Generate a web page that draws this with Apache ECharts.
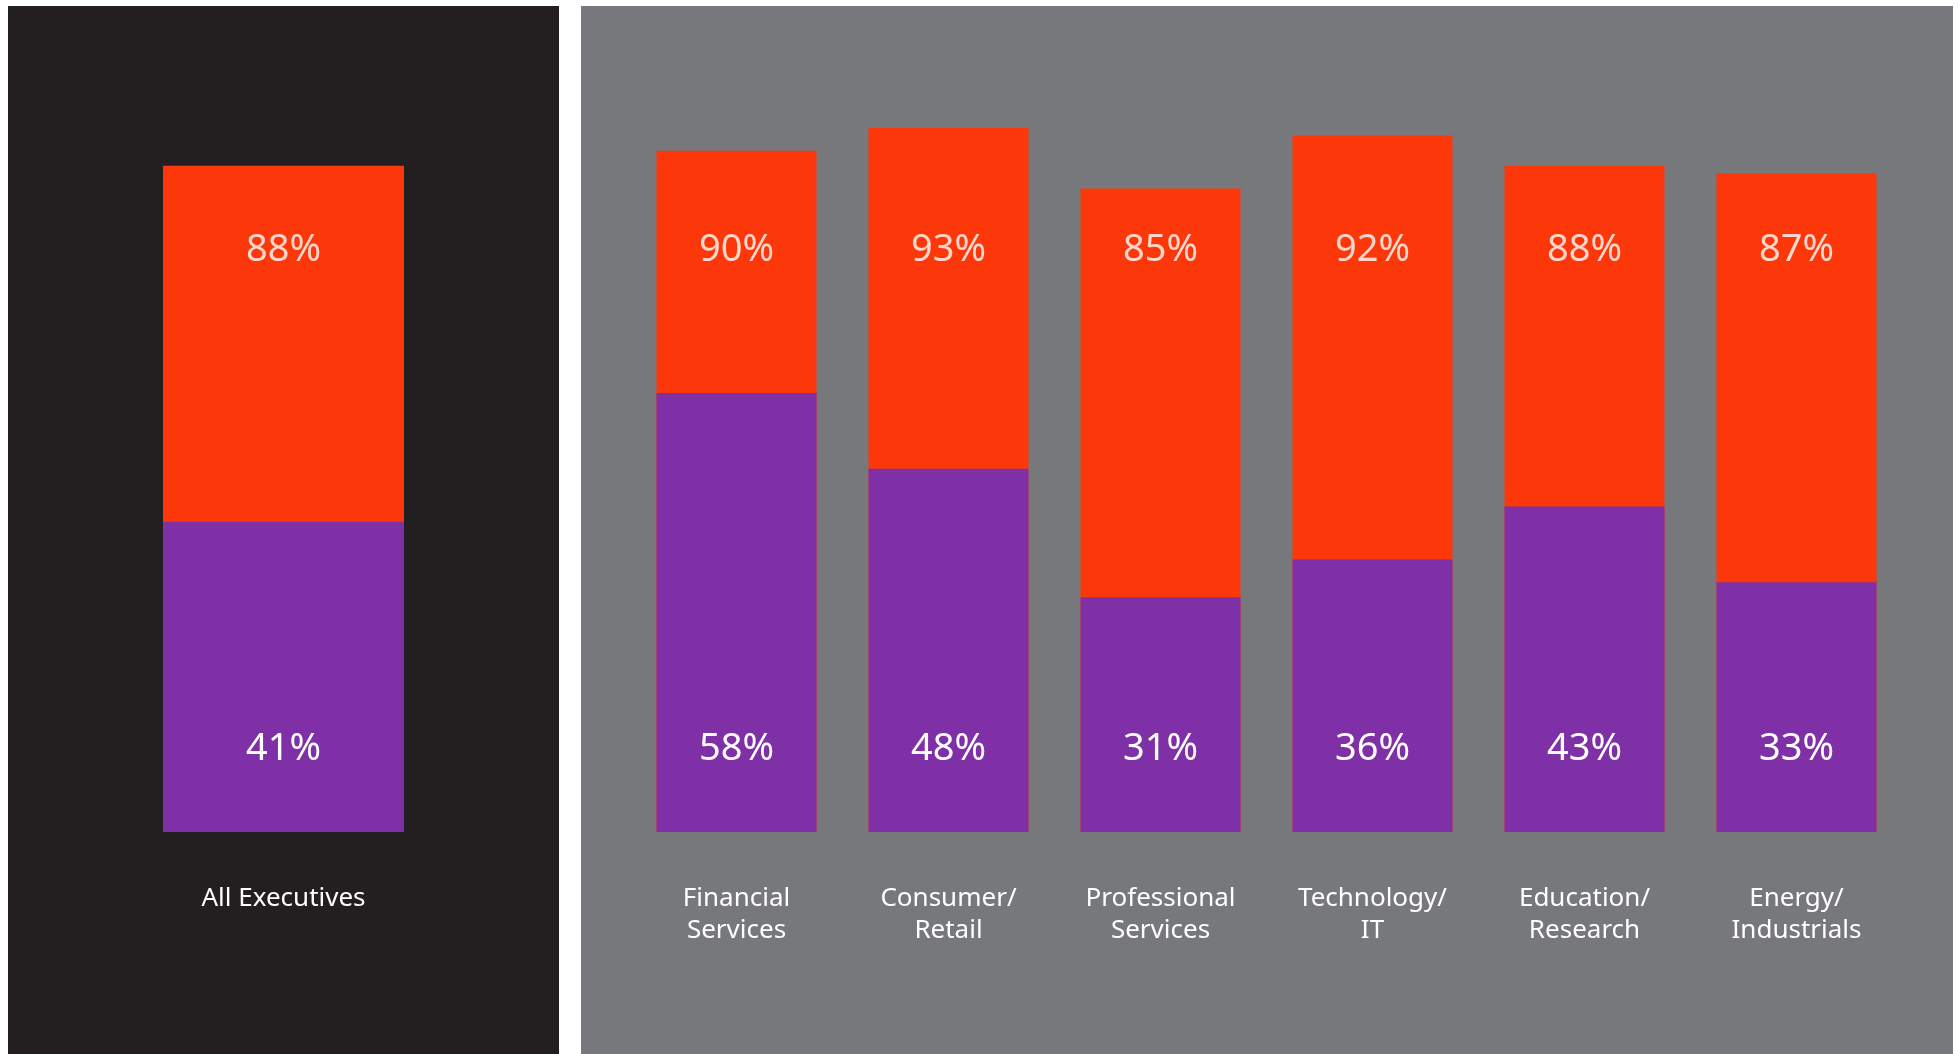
<!DOCTYPE html>
<html>
<head>
<meta charset="utf-8">
<title>Executives by industry</title>
<script src="https://cdn.jsdelivr.net/npm/echarts@6/dist/echarts.min.js"></script>
<style>
  html, body { margin: 0; padding: 0; background: #ffffff; }
  #chart { width: 1960px; height: 1054px; }
</style>
</head>
<body>
<div id="chart"></div>
<script>
// Overall figures
const overallCategories = ['All Executives'];
const overallTop = [88];
const overallBottom = [41];

// Figures by industry
const industryCategories = [
  'Financial\nServices',
  'Consumer/\nRetail',
  'Professional\nServices',
  'Technology/\nIT',
  'Education/\nResearch',
  'Energy/\nIndustrials'
];
const industryTop = [90, 93, 85, 92, 88, 87];
const industryBottom = [58, 48, 31, 36, 43, 33];

const ORANGE = '#FC3709';
const PURPLE = '#7F30A6';
const DARK = '#231F20';
const GREY = '#77787C';
const FONT = 'Noto Sans';

// level (in axis units) where the upper value labels sit
const TOP_LABEL_LEVEL = 76.9;

const valueLabel = {
  show: true,
  color: '#ffffff',
  fontFamily: FONT,
  fontSize: 38,
  formatter: p => p.value[2] + '%'
};

function xAxisFor(gridIndex, cats) {
  return {
    type: 'category',
    gridIndex: gridIndex,
    data: cats,
    axisLine: { show: false },
    axisTick: { show: false },
    splitLine: { show: false },
    axisLabel: {
      interval: 0,
      color: '#ffffff',
      fontFamily: FONT,
      fontSize: 26,
      lineHeight: 32,
      margin: 51
    }
  };
}

function yAxisFor(gridIndex) {
  return {
    type: 'value',
    gridIndex: gridIndex,
    min: 0,
    max: 100,
    show: false,
    splitLine: { show: false }
  };
}

function seriesFor(idx, cats, topVals, bottomVals, barWidth) {
  return [
    {
      type: 'bar',
      xAxisIndex: idx,
      yAxisIndex: idx,
      data: topVals,
      barWidth: barWidth,
      barGap: '-100%',
      itemStyle: { color: ORANGE },
      silent: true,
      z: 2
    },
    {
      type: 'bar',
      xAxisIndex: idx,
      yAxisIndex: idx,
      data: bottomVals,
      barWidth: barWidth,
      barGap: '-100%',
      itemStyle: { color: PURPLE },
      label: {
        show: true,
        position: 'insideBottom',
        distance: 64,
        color: '#ffffff',
        fontFamily: FONT,
        fontSize: 38,
        formatter: p => p.value + '%'
      },
      silent: true,
      z: 3
    },
    {
      type: 'scatter',
      xAxisIndex: idx,
      yAxisIndex: idx,
      data: cats.map((c, i) => [c, TOP_LABEL_LEVEL, topVals[i]]),
      symbolSize: 1,
      itemStyle: { color: 'transparent' },
      label: Object.assign({ position: 'inside' }, valueLabel),
      silent: true,
      z: 4
    }
  ];
}

const chart = echarts.init(document.getElementById('chart'), null, { renderer: 'canvas' });

chart.setOption({
  animation: false,
  backgroundColor: '#ffffff',
  graphic: [
    { type: 'rect', z: -10, shape: { x: 8, y: 6, width: 551, height: 1048 }, style: { fill: DARK }, silent: true },
    { type: 'rect', z: -10, shape: { x: 581, y: 6, width: 1372, height: 1048 }, style: { fill: GREY }, silent: true }
  ],
  grid: [
    { left: 8, width: 551, top: 75, height: 757 },
    { left: 630.5, width: 1272, top: 75, height: 757 }
  ],
  xAxis: [xAxisFor(0, overallCategories), xAxisFor(1, industryCategories)],
  yAxis: [yAxisFor(0), yAxisFor(1)],
  series: [].concat(
    seriesFor(0, overallCategories, overallTop, overallBottom, 241),
    seriesFor(1, industryCategories, industryTop, industryBottom, 160)
  )
});
</script>
</body>
</html>
